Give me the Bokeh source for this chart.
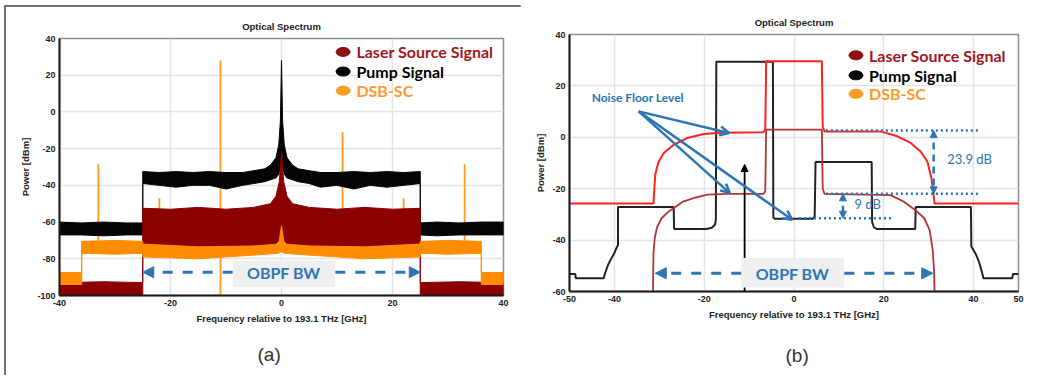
from bokeh.plotting import figure
from bokeh.layouts import row
from bokeh.models import Range1d, Label, Arrow, NormalHead, OpenHead, BoxAnnotation, Title, FixedTicker
from bokeh.embed import file_html
from bokeh.resources import INLINE

# ---------------- Panel (a) data ----------------
a_xticks = [-40, -20, 0, 20, 40]
a_xtick_labels = ["-40", "-20", "0", "20", "40"]
a_yticks = [-100, -80, -60, -40, -20, 0, 20, 40]
a_ytick_labels = ["-100", "-80", "-60", "-40", "-20", "0", "20", "40"]

# Pump signal (black) – noisy trace drawn as its upper / lower envelope
pump_x = [-40, -36, -32, -28, -25, -25, -22, -19, -16, -13, -10, -7, -5, -3, -2, -1, -0.5, -0.2, 0,
          0.2, 0.5, 1, 2, 3, 5, 7, 10, 13, 16, 19, 22, 25, 25, 28, 32, 36, 40]
pump_hi = [-60, -60.5, -60, -60.5, -60.5, -32.5, -33, -32.5, -33, -32.5, -33, -33, -32, -31, -29, -25, -18, -5, 28,
           -5, -18, -25, -29, -31, -32, -33, -33, -32.5, -33, -32.5, -33, -32.5, -60.5, -60, -60.5, -60, -60]
pump_lo = [-67, -67, -67.5, -67, -67, -39, -40, -41, -40, -40, -42, -40, -39, -38, -37, -36, -34, -30, -26,
           -30, -34, -36, -37, -38, -39, -41, -40, -42, -40, -41, -40, -39, -67, -67.5, -67, -67, -67]

# Laser source signal (dark red)
laser_x = [-40, -32, -25, -25, -20, -15, -10, -5, -2, -1, -0.4, 0, 0.4, 1, 2, 5, 10, 15, 20, 25, 25, 32, 40]
laser_hi = [-93, -92.5, -93, -52.5, -53, -52, -53, -52, -50, -46, -38, -22, -38, -46, -50, -52, -53, -52, -53,
            -52.5, -93, -92.5, -93]
laser_lo = [-100, -100, -100, -75, -77, -76, -78, -75, -74, -72, -70, -68, -70, -72, -74, -75, -78, -76, -77,
            -75, -100, -100, -100]

# DSB-SC (orange)
dsb_x = [-40, -36, -36, -30, -25, -25, -15, -5, -0.5, 0, 0.5, 5, 15, 25, 25, 30, 36, 36, 40]
dsb_hi = [-87.5, -87.5, -70.5, -70, -70.5, -72, -73.5, -73, -72, -62, -72, -73, -73.5, -72, -70.5, -70, -70.5,
          -87.5, -87.5]
dsb_lo = [-94, -94, -77, -77.5, -77, -79, -80, -78, -77, -76, -77, -78, -80, -79, -77, -77.5, -77, -94, -94]
dsb_spike_x = [-33, -22, -11, 11, 22, 33]
dsb_spike_top = [-28.5, -47, 28, -11, -47, -28.5]
dsb_spike_base = [-70, -70, -100, -70, -70, -70]

# ---------------- Panel (b) data ----------------
b_xticks = [-50, -40, -20, 0, 20, 40, 50]
b_xtick_labels = ["-50", "-40", "-20", "0", "20", "40", "50"]
b_yticks = [-60, -40, -20, 0, 20, 40]
b_ytick_labels = ["-60", "-40", "-20", "0", "20", "40"]

b_red_x = [-50, -31.3, -31.1, -30.9, -30.4, -30.1, -29.0, -26.8, -23.8, -20.1, -16.4, -6.8, -6.4, -6.2,
           6.2, 6.4, 6.8, 19.3, 23.0, 26.0, 28.2, 29.7, 30.6, 31.0, 31.3, 50]
b_red_y = [-25.8, -25.8, -20, -14.5, -11, -9.4, -6.1, -2.9, -0.3, 1.3, 1.8, 2.0, 3.0, 29.6,
           29.6, 4.0, 2.3, 2.3, 0.4, -2.2, -5.5, -9.4, -15.8, -21, -25.8, -25.8]

b_brown_x = [-31.4, -31.3, -31.0, -30.5, -29.5, -28.0, -26.9, -24.7, -22.0, -19.3, -15.0, -6.8, -6.4, -6.2,
             6.2, 6.4, 6.8, 21.5, 24.4, 27.5, 29.0, 30.2, 30.9, 31.2, 31.3]
b_brown_y = [-60, -45, -39, -35, -31.5, -29, -27.7, -25, -23.5, -22.3, -22, -22, -21, 3,
             3, -20, -22, -22.5, -25, -29, -31.5, -36, -44, -52, -60]

b_black_x = [-50, -48.7, -48.6, -42.4, -42.0, -41.5, -40.8, -40.0, -39.4, -39.2, -39.2, -26.8, -26.7,
             -19.5, -18.3, -17.6, -17.4, -17.3, -4.7, -4.6, -4.3, 4.2, 4.6, 4.8, 17.3, 17.4, 17.8, 18.5,
             27.0, 27.1, 39.4, 39.5, 40.5, 41.2, 41.8, 42.2, 48.6, 48.8, 50]
b_black_y = [-53.2, -53.2, -54.8, -54.8, -52.5, -50, -47.5, -45, -42.5, -42, -27.1, -27.1, -35.7,
             -35.7, -35.2, -34, -32, 29.4, 29.4, -31.2, -31.7, -31.7, -31, -9.6, -9.6, -33, -35, -35.7,
             -35.7, -27.1, -27.1, -42.5, -45.5, -48.5, -52, -54.8, -54.8, -53.2, -53.2]

legend_labels = ["Laser Source Signal", "Pump Signal", "DSB-SC"]
legend_dot_colors = ["#8e1010", "#000000", "#ff9a22"]
legend_text_colors = ["#a3161c", "#000000", "#ff9a2a"]

BLUE = "#2e75b6"
FONT = "Liberation Sans"
LFONT = "Lato"
LASER = "#8b0000"
PUMP = "#050505"
DSB = "#ff8c00"


def make_fig(w, h, xr, yr, mb, xt, xl, yt, yl):
    p = figure(width=w, height=h, x_range=Range1d(*xr), y_range=Range1d(*yr),
               output_backend="svg", toolbar_location=None,
               min_border_left=mb[0], min_border_right=mb[1],
               min_border_top=mb[2], min_border_bottom=mb[3])
    p.title.text = "Optical Spectrum"
    p.title.align = "center"
    p.title.text_font = FONT
    p.title.text_font_size = "9.5px"
    p.title.text_font_style = "bold"
    p.title.text_color = "#222222"
    p.title.standoff = 13
    p.outline_line_color = "#222222"
    p.outline_line_dash = "1 1"
    p.outline_line_width = 1.5
    p.xaxis.ticker = FixedTicker(ticks=xt)
    p.yaxis.ticker = FixedTicker(ticks=yt)
    p.xaxis.major_label_overrides = dict(zip(xt, xl))
    p.yaxis.major_label_overrides = dict(zip(yt, yl))
    for ax in (p.xaxis[0], p.yaxis[0]):
        ax.axis_line_width = 2
        ax.axis_line_color = "#1a1a1a"
        ax.major_tick_line_color = None
        ax.minor_tick_line_color = None
        ax.major_tick_out = 0
        ax.major_tick_in = 0
        ax.minor_tick_out = 0
        ax.major_label_text_font = FONT
        ax.major_label_text_font_size = "9px"
        ax.major_label_text_font_style = "bold"
        ax.major_label_text_color = "#222222"
        ax.major_label_standoff = 4
        ax.axis_label_text_font = FONT
        ax.axis_label_text_font_size = "9.5px"
        ax.axis_label_text_font_style = "bold"
        ax.axis_label_text_color = "#222222"
    p.xaxis.axis_label_standoff = 4
    p.yaxis.axis_label_standoff = 3
    p.xaxis.axis_label = "Frequency relative to 193.1 THz [GHz]"
    p.yaxis.axis_label = "Power [dBm]"
    p.grid.grid_line_color = "#e4e4e4"
    p.grid.grid_line_width = 1.5
    return p


def add_legend(p, x_dot, x_txt, ys):
    p.ellipse(x=[x_dot] * 3, y=ys, width=14, height=9, width_units="screen", height_units="screen",
              fill_color=legend_dot_colors, line_color=legend_dot_colors)
    for y, t, c in zip(ys, legend_labels, legend_text_colors):
        p.add_layout(Label(x=x_txt, y=y, text=t, text_color=c, text_font=LFONT, text_font_size="16px",
                           text_font_style="bold", text_baseline="middle", text_align="left"))


def add_caption(p, text, offset, spacer_px):
    # an empty spacer line between the axis label and the panel caption
    p.add_layout(Title(text=" ", text_font_size=f"{spacer_px}px", standoff=0), "below")
    p.add_layout(Title(text=text, align="left", text_font=FONT, text_font_size="19px",
                       text_font_style="normal", text_color="#333333", standoff=2, offset=offset), "below")


def add_obpf(p, box, y, x_ends, text_x):
    p.add_layout(BoxAnnotation(left=box[0], right=box[1], bottom=box[2], top=box[3],
                               fill_color="#efefef", fill_alpha=1, line_color=None))
    for xs, xe in ((box[0], x_ends[0]), (box[1], x_ends[1])):
        p.add_layout(Arrow(x_start=xs, y_start=y, x_end=xe, y_end=y, line_color=BLUE, line_width=3,
                           line_dash="10 10",
                           end=NormalHead(size=11, fill_color=BLUE, line_color=BLUE, line_width=1)))
    p.add_layout(Label(x=text_x, y=y, text="OBPF BW", text_color=BLUE, text_font=LFONT,
                       text_font_size="16px", text_font_style="bold", text_align="center",
                       text_baseline="middle"))


def band(x, hi, lo):
    return list(x) + list(x)[::-1], list(hi) + list(lo)[::-1]


# ---------------- Panel (a) ----------------
pa = make_fig(514, 368, (-40, 40), (-100, 40), (53, 17, 31, 80),
              a_xticks, a_xtick_labels, a_yticks, a_ytick_labels)
pa.segment(x0=dsb_spike_x, y0=dsb_spike_base, x1=dsb_spike_x, y1=dsb_spike_top,
           line_color="#ff9a22", line_width=1.8)
px, py = band(pump_x, pump_hi, pump_lo)
pa.patch(px, py, fill_color=PUMP, line_color=PUMP, line_width=1)
lx, ly = band(laser_x, laser_hi, laser_lo)
pa.patch(lx, ly, fill_color=LASER, line_color=LASER, line_width=1)
dx, dy = band(dsb_x, dsb_hi, dsb_lo)
pa.patch(dx, dy, fill_color=DSB, line_color=DSB, line_width=1)
add_legend(pa, 11.1, 13.5, [32.7, 22.0, 11.6])
add_obpf(pa, (-8.8, 9.7, -95.5, -81), -87.3, (-25, 25), 0.4)
add_caption(pa, "(a)", 198, 11)

# ---------------- Panel (b) ----------------
pb = make_fig(514, 368, (-50, 50), (-60, 40), (49, 16, 31, 80),
              b_xticks, b_xtick_labels, b_yticks, b_ytick_labels)
pb.styles = {"transform": "translateY(-4px)"}
pb.line(b_black_x, b_black_y, line_color="#222222", line_width=2)
pb.line(b_brown_x, b_brown_y, line_color="#b03636", line_width=1.8)
pb.line(b_red_x, b_red_y, line_color="#ff2222", line_width=2)

# black marker arrow
pb.add_layout(Arrow(x_start=-11, y_start=-60, x_end=-11, y_end=-10.6, line_color="black", line_width=1.8,
                    end=NormalHead(size=7, fill_color="black", line_color="black")))

# noise-floor annotation
pb.add_layout(Label(x=-34.8, y=15.3, text="Noise Floor Level", text_color=BLUE, text_font=LFONT,
                    text_font_size="12px", text_font_style="bold", text_align="center",
                    text_baseline="middle"))
for xe, ye in ((-14.5, 1.7), (-14.3, -21.7), (-0.4, -32.1)):
    pb.add_layout(Arrow(x_start=-34.6, y_start=10.1, x_end=xe, y_end=ye, line_color=BLUE, line_width=2.5,
                        end=OpenHead(size=9, line_color=BLUE, line_width=2.5)))

# dotted reference levels
pb.segment(x0=[7.1, 7.1, 1.1], y0=[2.6, -22.0, -31.5], x1=[41.0, 41.0, 21.6], y1=[2.6, -22.0, -31.5],
           line_color=BLUE, line_width=2.5, line_dash="2 3")
for xa, y0, y1 in ((31.1, 2.6, -22.0), (10.9, -22.0, -31.5)):
    pb.add_layout(Arrow(x_start=xa, y_start=y0, x_end=xa, y_end=y1, line_color=BLUE, line_width=2.5,
                        line_dash="7 5",
                        start=NormalHead(size=7, fill_color=BLUE, line_color=BLUE),
                        end=NormalHead(size=7, fill_color=BLUE, line_color=BLUE)))
pb.add_layout(Label(x=39.1, y=-8.3, text="23.9 dB", text_color=BLUE, text_font=LFONT, text_font_size="13px",
                    text_align="center", text_baseline="middle"))
pb.add_layout(Label(x=16.4, y=-25.8, text="9 dB", text_color=BLUE, text_font=LFONT, text_font_size="13px",
                    text_align="center", text_baseline="middle"))

add_legend(pb, 13.8, 16.7, [31.9, 24.1, 16.9])
add_obpf(pb, (-11.75, 11.2, -58.4, -47), -52.9, (-30.9, 30.9), -0.35)
add_caption(pb, "(b)", 216, 15)

layout = row(pa, pb, styles={"margin-left": "4px", "margin-top": "5px",
                             "border-top": "2px solid #707070", "border-left": "2px solid #707070"})
open("out.html", "w").write(file_html(layout, INLINE))
